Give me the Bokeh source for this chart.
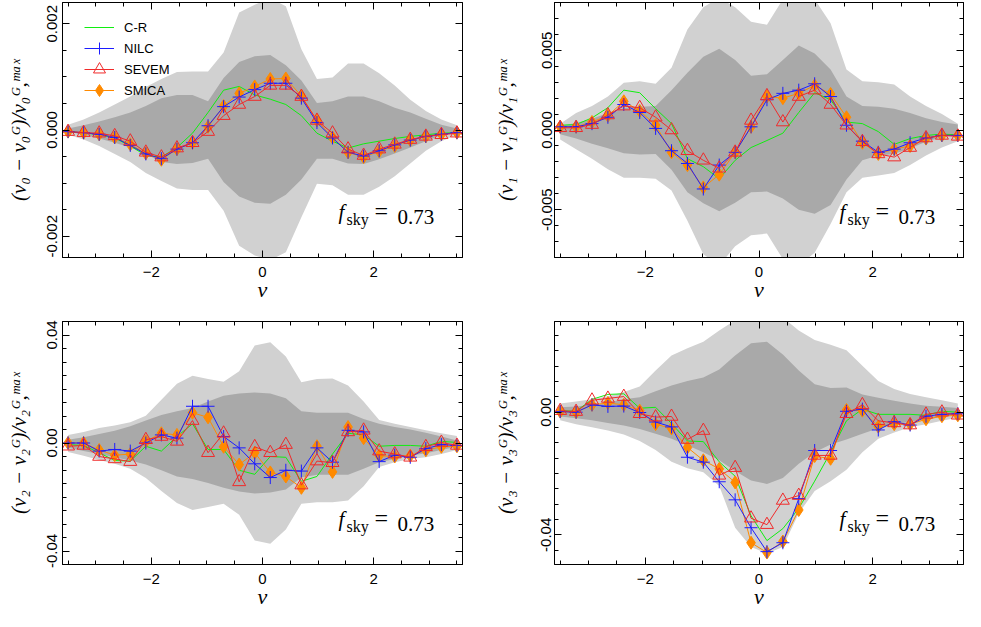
import numpy as np
from bokeh.plotting import figure
from bokeh.models import (Range1d, FixedTicker, LinearAxis, Legend, LegendItem,
                          Label, CustomJSTickFormatter)
from bokeh.layouts import column, row
from bokeh.embed import file_html
from bokeh.resources import INLINE

# ---------------------------------------------------------------- data
NU = [-3.50, -3.22, -2.94, -2.66, -2.38, -2.10, -1.82, -1.54, -1.26, -0.98,
      -0.70, -0.42, -0.14, 0.14, 0.42, 0.70, 0.98, 1.26, 1.54, 1.82,
      2.10, 2.38, 2.66, 2.94, 3.22, 3.50]

# v0 panel
V0_OUT_HI = [0.00010, 0.00020, 0.00033, 0.00048, 0.00063, 0.00081, 0.00096, 0.00109, 0.00110, 0.00110,
             0.00146, 0.00221, 0.00236, 0.00248, 0.00233, 0.00152, 0.00096, 0.00099, 0.00125, 0.00125,
             0.00107, 0.00084, 0.00057, 0.00036, 0.00020, 0.00009]
V0_OUT_LO = [-0.00009, -0.00018, -0.00030, -0.00045, -0.00060, -0.00081, -0.00096, -0.00110, -0.00113, -0.00113,
             -0.00152, -0.00218, -0.00236, -0.00245, -0.00230, -0.00164, -0.00101, -0.00104, -0.00122, -0.00122,
             -0.00107, -0.00087, -0.00063, -0.00039, -0.00021, -0.00009]
V0_IN_HI = [0.00003, 0.00009, 0.00016, 0.00024, 0.00033, 0.00045, 0.00060, 0.00066, 0.00066, 0.00054,
            0.00098, 0.00128, 0.00139, 0.00141, 0.00122, 0.00093, 0.00051, 0.00054, 0.00063, 0.00063,
            0.00054, 0.00042, 0.00033, 0.00021, 0.00010, 0.00003]
V0_IN_LO = [-0.00003, -0.00009, -0.00016, -0.00024, -0.00033, -0.00045, -0.00060, -0.00064, -0.00062, -0.00054,
            -0.00098, -0.00125, -0.00137, -0.00139, -0.00122, -0.00093, -0.00054, -0.00054, -0.00063, -0.00064,
            -0.00055, -0.00044, -0.00033, -0.00021, -0.00010, -0.00003]
V0_CR = [-0.00004, -0.00005, -0.00009, -0.00015, -0.00030, -0.00048, -0.00051, -0.00033, -0.00006, 0.00033,
         0.00075, 0.00082, 0.00066, 0.00058, 0.00048, 0.00027, -0.00006, -0.00021, -0.00034, -0.00026,
         -0.00021, -0.00016, -0.00012, -0.00009, -0.00006, -0.00005]
V0_NILC = [-0.00003, -0.00005, -0.00008, -0.00014, -0.00029, -0.00045, -0.00054, -0.00036, -0.00024, 0.00008,
           0.00044, 0.00062, 0.00076, 0.00088, 0.00088, 0.00060, 0.00014, -0.00015, -0.00042, -0.00049,
           -0.00039, -0.00028, -0.00019, -0.00012, -0.00008, -0.00005]
V0_SEVEM = [-0.00003, -0.00005, -0.00006, -0.00011, -0.00021, -0.00042, -0.00051, -0.00034, -0.00024, -0.00003,
            0.00027, 0.00048, 0.00063, 0.00084, 0.00084, 0.00063, 0.00018, -0.00006, -0.00036, -0.00048,
            -0.00036, -0.00027, -0.00018, -0.00012, -0.00009, -0.00006]
V0_SMICA = [-0.00003, -0.00005, -0.00008, -0.00014, -0.00027, -0.00044, -0.00056, -0.00036, -0.00024, 0.00006,
            0.00045, 0.00069, 0.00082, 0.00096, 0.00097, 0.00064, 0.00018, -0.00014, -0.00042, -0.00051,
            -0.00040, -0.00030, -0.00019, -0.00012, -0.00008, -0.00005]

# v1 panel
V1_OUT_HI = [0.0004, 0.00106, 0.0015, 0.0021, 0.00296, 0.00306, 0.0029, 0.0039, 0.0063, 0.0077,
             0.0083, 0.0077, 0.0068, 0.0066, 0.0082, 0.0083, 0.0082, 0.0067, 0.0038, 0.00306,
             0.0030, 0.00286, 0.0021, 0.0015, 0.0010, 0.0004]
V1_OUT_LO = [-0.0006, -0.0012, -0.0018, -0.00246, -0.0030, -0.0030, -0.00306, -0.0038, -0.0057, -0.0078,
             -0.0085, -0.0073, -0.0066, -0.0065, -0.0081, -0.0085, -0.0077, -0.0059, -0.0039, -0.0030,
             -0.00286, -0.0027, -0.0022, -0.0016, -0.0011, -0.0007]
V1_IN_HI = [0.00026, 0.00044, 0.0007, 0.00106, 0.0014, 0.00146, 0.0015, 0.0025, 0.0036, 0.0046,
            0.0051, 0.0044, 0.0034, 0.0035, 0.0044, 0.0053, 0.0048, 0.0038, 0.0021, 0.0015,
            0.00146, 0.00134, 0.00106, 0.00074, 0.0005, 0.00034]
V1_IN_LO = [-0.00026, -0.00054, -0.00086, -0.00114, -0.00146, -0.00154, -0.0015, -0.0025, -0.0039, -0.0046,
            -0.0051, -0.00456, -0.0039, -0.00386, -0.0043, -0.0050, -0.00526, -0.0047, -0.0031, -0.0019,
            -0.0016, -0.0015, -0.00114, -0.00074, -0.00046, -0.00026]
V1_CR = [0.0003, 0.00034, 0.00076, 0.0014, 0.0025, 0.00234, 0.00134, 0.0004, -0.0018, -0.0023,
         -0.00306, -0.0019, -0.0011, -0.00066, -0.0002, 0.0011, 0.00234, 0.0019, 0.0005, 0.0004,
         -0.0001, -0.0009, -0.00054, -0.00034, -0.00026, -0.0003]
V1_NILC = [0.0002, 0.0002, 0.0004, 0.0008, 0.0016, 0.0011, 0.0001, -0.0013, -0.0021, -0.0037,
           -0.0022, -0.0014, 0.0002, 0.0019, 0.0023, 0.0025, 0.0029, 0.0021, 0.0003, -0.0007,
           -0.0014, -0.0012, -0.0008, -0.0005, -0.00034, -0.00034]
V1_SEVEM = [0.00014, 0.00014, 0.00034, 0.00094, 0.0015, 0.0014, 0.0008, 0.0, -0.0013, -0.0019,
            -0.0024, -0.0014, 0.0006, 0.00214, 0.0005, 0.0021, 0.0025, 0.0016, 0.0003, -0.00074,
            -0.0015, -0.0017, -0.0011, -0.0005, -0.00034, -0.0004]
V1_SMICA = [0.0002, 0.0002, 0.0005, 0.0009, 0.0018, 0.0012, 0.0003, -0.0014, -0.0022, -0.0036,
            -0.0028, -0.0014, 0.0002, 0.0021, 0.0020, 0.0023, 0.0028, 0.00226, 0.0008, -0.0008,
            -0.0015, -0.0012, -0.0010, -0.00054, -0.00034, -0.00034]

# v2 panel
V2_OUT_HI = [0.0030, 0.0041, 0.0056, 0.0065, 0.0077, 0.0101, 0.0160, 0.0219, 0.0249, 0.0237,
             0.0227, 0.0266, 0.0361, 0.0373, 0.0320, 0.0225, 0.0237, 0.0239, 0.0213, 0.0154,
             0.0085, 0.0071, 0.0059, 0.0047, 0.0036, 0.0026]
V2_OUT_LO = [-0.0033, -0.0047, -0.0063, -0.0077, -0.0095, -0.0130, -0.0178, -0.0222, -0.0248, -0.0237,
             -0.0225, -0.0266, -0.0361, -0.0373, -0.0320, -0.0225, -0.0219, -0.0219, -0.0213, -0.0160,
             -0.0089, -0.0071, -0.0059, -0.0053, -0.0041, -0.0026]
V2_IN_HI = [0.0012, 0.0021, 0.0033, 0.0045, 0.0062, 0.0083, 0.0104, 0.0118, 0.0130, 0.0154,
            0.0175, 0.0183, 0.0187, 0.0183, 0.0166, 0.0118, 0.0112, 0.0112, 0.0112, 0.0089,
            0.0071, 0.0059, 0.0050, 0.0038, 0.0024, 0.0009]
V2_IN_LO = [-0.0018, -0.0030, -0.0041, -0.0053, -0.0065, -0.0080, -0.0101, -0.0124, -0.0133, -0.0148,
            -0.0166, -0.0180, -0.0187, -0.0183, -0.0172, -0.0128, -0.0118, -0.0118, -0.0118, -0.0095,
            -0.0071, -0.0059, -0.0047, -0.0038, -0.0026, -0.0014]
V2_CR = [-0.0006, -0.0009, -0.0036, -0.0065, -0.0067, -0.0012, -0.0030, 0.0024, 0.0071, -0.0024,
         -0.0024, -0.0101, -0.0116, -0.0050, -0.0053, -0.0142, -0.0124, -0.0041, 0.0036, 0.0030,
         -0.0012, -0.0009, -0.0009, -0.0012, 0.0006, 0.0002]
V2_NILC = [0.0, 0.0, -0.0030, -0.0024, -0.0030, 0.0, 0.0030, 0.0018, 0.0136, 0.0136,
           0.0024, -0.0018, -0.0077, -0.0128, -0.0101, -0.0104, -0.0018, -0.0071, 0.0047, 0.0041,
           -0.0069, -0.0045, -0.0053, -0.0021, -0.0006, -0.0009]
V2_SEVEM = [-0.0012, -0.0009, -0.0050, -0.0059, -0.0069, 0.0012, 0.0024, 0.0006, 0.0083, -0.0036,
            0.0036, -0.0144, -0.0014, -0.0036, -0.0006, -0.0156, -0.0067, -0.0073, 0.0041, 0.0047,
            -0.0030, -0.0041, -0.0053, -0.0014, 0.0002, -0.0009]
V2_SMICA = [0.0, 0.0, -0.0026, -0.0045, -0.0041, 0.0006, 0.0036, 0.0030, 0.0112, 0.0095,
            -0.0014, -0.0080, -0.0036, -0.0109, -0.0124, -0.0166, -0.0012, -0.0107, 0.0059, 0.0018,
            -0.0047, -0.0050, -0.0047, -0.0027, -0.0014, -0.0012]

# v3 panel
V3_OUT_HI = [0.0028, 0.0035, 0.0042, 0.0052, 0.0066, 0.0084, 0.0136, 0.0185, 0.0209, 0.0230,
             0.0267, 0.0300, 0.0319, 0.0319, 0.0309, 0.0267, 0.0236, 0.0220, 0.0202, 0.0152,
             0.0102, 0.0076, 0.0059, 0.0049, 0.0039, 0.0028]
V3_OUT_LO = [-0.0026, -0.0039, -0.0049, -0.0060, -0.0073, -0.0094, -0.0123, -0.0162, -0.0183, -0.0196,
             -0.0241, -0.0377, -0.0440, -0.0461, -0.0440, -0.0330, -0.0257, -0.0225, -0.0188, -0.0131,
             -0.0087, -0.0066, -0.0049, -0.0039, -0.0028, -0.0018]
V3_IN_HI = [0.0016, 0.0019, 0.0024, 0.0031, 0.0042, 0.0049, 0.0068, 0.0087, 0.0102, 0.0113,
            0.0139, 0.0185, 0.0225, 0.0230, 0.0188, 0.0136, 0.0091, 0.0079, 0.0081, 0.0058,
            0.0047, 0.0037, 0.0028, 0.0021, 0.0018, 0.0014]
V3_IN_LO = [-0.0014, -0.0020, -0.0026, -0.0035, -0.0043, -0.0055, -0.0070, -0.0087, -0.0108, -0.0131,
            -0.0157, -0.0192, -0.0223, -0.0234, -0.0215, -0.0168, -0.0131, -0.0105, -0.0089, -0.0070,
            -0.0052, -0.0040, -0.0031, -0.0024, -0.0016, -0.0007]
V3_CR = [0.0005, 0.0003, 0.0042, 0.0058, 0.0060, 0.0013, 0.0016, -0.0037, -0.0094, -0.0096,
         -0.0162, -0.0209, -0.0338, -0.0419, -0.0380, -0.0314, -0.0225, -0.0131, -0.0028, 0.0010,
         -0.0007, -0.0007, -0.0007, -0.0010, 0.0003, 0.0]
V3_NILC = [0.0002, 0.0, 0.0024, 0.0019, 0.0020, -0.0001, -0.0032, -0.0048, -0.0147, -0.0163,
           -0.0227, -0.0286, -0.0377, -0.0455, -0.0426, -0.0282, -0.0125, -0.0125, 0.0003, 0.0010,
           -0.0058, -0.0031, -0.0042, -0.0013, -0.0007, -0.0005]
V3_SEVEM = [0.0005, 0.0002, 0.0039, 0.0045, 0.0051, -0.0005, -0.0016, -0.0014, -0.0089, -0.0060,
            -0.0206, -0.0181, -0.0346, -0.0367, -0.0288, -0.0272, -0.0141, -0.0141, -0.0005, 0.0024,
            -0.0028, -0.0035, -0.0042, -0.0007, 0.0, -0.0010]
V3_SMICA = [0.0002, 0.0, 0.0024, 0.0030, 0.0024, 0.0005, -0.0039, -0.0053, -0.0115, -0.0157,
            -0.0185, -0.0229, -0.0426, -0.0458, -0.0422, -0.0319, -0.0143, -0.0152, 0.0007, 0.0005,
            -0.0047, -0.0039, -0.0039, -0.0023, -0.0013, -0.0010]

# ticks / labels
X_MAJOR = [-2, 0, 2]
X_LABELS = ["\u22122", "0", "2"]
X_MINOR = [-3.5, -3.0, -2.5, -2.0, -1.5, -1.0, -0.5, 0.0, 0.5, 1.0, 1.5, 2.0, 2.5, 3.0, 3.5]

V0_YMAJOR = [-0.002, 0.0, 0.002]
V0_YLABELS = ["-0.002", "0.000", "0.002"]
V1_YMAJOR = [-0.005, 0.0, 0.005]
V1_YLABELS = ["-0.005", "0.000", "0.005"]
V2_YMAJOR = [-0.04, 0.0, 0.04]
V2_YLABELS = ["-0.04", "0.00", "0.04"]
V3_YMAJOR = [-0.04, 0.0]
V3_YLABELS = ["-0.04", "0.00"]

SERIES = ["C-R", "NILC", "SEVEM", "SMICA"]
FSKY_TEXT = "0.73"
X_TITLE = "\u03bd"

# ---------------------------------------------------------------- style
LIGHT = "#d1d1d1"
DARK = "#a9a9a9"
GREEN = "#10ee10"
BLUE = "#1c1cff"
RED = "#f02a2a"
ORANGE = "#ff8a00"
SANS = "Liberation Sans"
SERIF = "Liberation Serif"
XR = (-3.6, 3.6)


def minor_list(lo, hi, step):
    n = int(round((hi - lo) / step))
    return [round(lo + k * step, 6) for k in range(n + 1)]


def style_axis(ax, standoff):
    ax.major_tick_in = 7
    ax.major_tick_out = 0
    ax.minor_tick_in = 4
    ax.minor_tick_out = 0
    ax.axis_line_color = "black"
    ax.axis_line_width = 1
    ax.major_tick_line_color = "black"
    ax.minor_tick_line_color = "black"
    ax.major_tick_line_width = 1
    ax.minor_tick_line_width = 1
    ax.major_label_text_font = SANS
    ax.major_label_text_font_size = "15px"
    ax.major_label_text_color = "black"
    ax.major_label_standoff = standoff


def make_panel(k, yr, ymajor, ylabels, yminor, out_hi, out_lo, in_hi, in_lo,
               cr, nilc, sevem, smica, w, h, borders, ystand, ylab_stand, legend=False):
    bl, br, bt, bb = borders
    p = figure(width=w, height=h, x_range=Range1d(*XR),
               y_range=Range1d(yr[0], yr[1]), output_backend="svg",
               toolbar_location=None, min_border_left=bl, min_border_right=br,
               min_border_top=bt, min_border_bottom=bb)
    p.xgrid.visible = False
    p.ygrid.visible = False
    p.outline_line_color = "black"
    p.background_fill_color = "white"
    p.border_fill_color = "white"

    p.varea(x=NU, y1=out_lo, y2=out_hi, fill_color=LIGHT, fill_alpha=1)
    p.varea(x=NU, y1=in_lo, y2=in_hi, fill_color=DARK, fill_alpha=1)

    r_cr = p.line(NU, cr, line_color=GREEN, line_width=1)
    r_sm_l = p.line(NU, smica, line_color=ORANGE, line_width=1)
    r_sm_m = p.scatter(NU, smica, marker="diamond", size=13,
                       fill_color=ORANGE, line_color=ORANGE)
    r_ni_l = p.line(NU, nilc, line_color=BLUE, line_width=1)
    r_ni_m = p.scatter(NU, nilc, marker="cross", size=13, line_color=BLUE, line_width=1)
    r_se_l = p.line(NU, sevem, line_color=RED, line_width=1)
    r_se_m = p.scatter(NU, sevem, marker="triangle", size=13, fill_alpha=0,
                       line_color=RED, line_width=1)

    p.xaxis.ticker = FixedTicker(ticks=X_MAJOR, minor_ticks=X_MINOR)
    p.yaxis.ticker = FixedTicker(ticks=ymajor, minor_ticks=yminor)
    p.xaxis.major_label_overrides = dict(zip(X_MAJOR, X_LABELS))
    p.yaxis.major_label_overrides = dict(zip(ymajor, ylabels))
    for ax in p.xaxis:
        style_axis(ax, 9)
    for ax in p.yaxis:
        style_axis(ax, ystand)
    p.yaxis.major_label_orientation = "vertical"

    p.xaxis.axis_label = X_TITLE
    p.xaxis.axis_label_text_font = SERIF
    p.xaxis.axis_label_text_font_size = "22px"
    p.xaxis.axis_label_text_font_style = "italic"
    p.xaxis.axis_label_text_color = "black"
    p.xaxis.axis_label_standoff = -3

    sub = "\u2080\u2081\u2082\u2083"[k]
    p.yaxis.axis_label = "(v%s \u2212 v%s\u1d33)/v%s\u1d33,\u1d50\u1d43\u02e3" % (sub, sub, sub)
    p.yaxis.axis_label_text_font = SERIF
    p.yaxis.axis_label_text_font_size = "21px"
    p.yaxis.axis_label_text_font_style = "italic"
    p.yaxis.axis_label_text_color = "black"
    p.yaxis.axis_label_standoff = ylab_stand

    blank = CustomJSTickFormatter(code="return ''")
    top = LinearAxis(ticker=FixedTicker(ticks=X_MAJOR, minor_ticks=X_MINOR), formatter=blank)
    right = LinearAxis(ticker=FixedTicker(ticks=ymajor, minor_ticks=yminor), formatter=blank)
    for ax in (top, right):
        style_axis(ax, 0)
        ax.major_label_text_font_size = "0px"
    p.add_layout(top, "above")
    p.add_layout(right, "right")

    # f_sky annotation, anchored at bottom-right corner of the frame
    x0, y0 = XR[1], yr[0]
    p.add_layout(Label(x=x0, y=y0, x_offset=-124, y_offset=34, text="f",
                       text_font=SERIF, text_font_size="21px", text_font_style="italic",
                       text_color="black"))
    p.add_layout(Label(x=x0, y=y0, x_offset=-116, y_offset=30, text="sky",
                       text_font=SERIF, text_font_size="16px", text_color="black"))
    p.add_layout(Label(x=x0, y=y0, x_offset=-88, y_offset=34, text="=",
                       text_font=SERIF, text_font_size="24px", text_color="black"))
    p.add_layout(Label(x=x0, y=y0, x_offset=-65, y_offset=34, text=FSKY_TEXT,
                       text_font=SERIF, text_font_size="21px", text_color="black"))

    if legend:
        fh = h - bt - bb
        groups = [[r_cr], [r_ni_l, r_ni_m], [r_se_l, r_se_m], [r_sm_l, r_sm_m]]
        for i, (name, rends) in enumerate(zip(SERIES, groups)):
            centre = 25 + 21 * i
            lg = Legend(items=[LegendItem(label=name, renderers=rends)],
                        location=(22, fh - centre - 15), margin=0, padding=0,
                        glyph_width=30, glyph_height=30, label_height=14, spacing=0,
                        label_standoff=10, label_text_font=SANS, label_text_font_size="13px",
                        label_text_color="black", background_fill_alpha=0,
                        border_line_alpha=0)
            p.add_layout(lg)
    return p


p1 = make_panel(0, (-0.0024, 0.0024), V0_YMAJOR, V0_YLABELS, minor_list(-0.002, 0.002, 0.0005),
                V0_OUT_HI, V0_OUT_LO, V0_IN_HI, V0_IN_LO, V0_CR, V0_NILC, V0_SEVEM, V0_SMICA,
                470, 304, (62, 8, 2, 47), 6, 13, legend=True)
p2 = make_panel(1, (-0.008, 0.008), V1_YMAJOR, V1_YLABELS, minor_list(-0.008, 0.008, 0.001),
                V1_OUT_HI, V1_OUT_LO, V1_IN_HI, V1_IN_LO, V1_CR, V1_NILC, V1_SEVEM, V1_SMICA,
                495, 304, (84, 2, 2, 47), 3, 21)
p3 = make_panel(2, (-0.045, 0.045), V2_YMAJOR, V2_YLABELS, minor_list(-0.045, 0.045, 0.005),
                V2_OUT_HI, V2_OUT_LO, V2_IN_HI, V2_IN_LO, V2_CR, V2_NILC, V2_SEVEM, V2_SMICA,
                470, 307, (62, 8, 17, 47), 6, 13)
p4 = make_panel(3, (-0.0497, 0.0296), V3_YMAJOR, V3_YLABELS, minor_list(-0.045, 0.025, 0.005),
                V3_OUT_HI, V3_OUT_LO, V3_IN_HI, V3_IN_LO, V3_CR, V3_NILC, V3_SEVEM, V3_SMICA,
                495, 307, (84, 2, 17, 47), 3, 21)

layout = column(row(p1, p2), row(p3, p4))
open("out.html", "w").write(file_html(layout, INLINE))
